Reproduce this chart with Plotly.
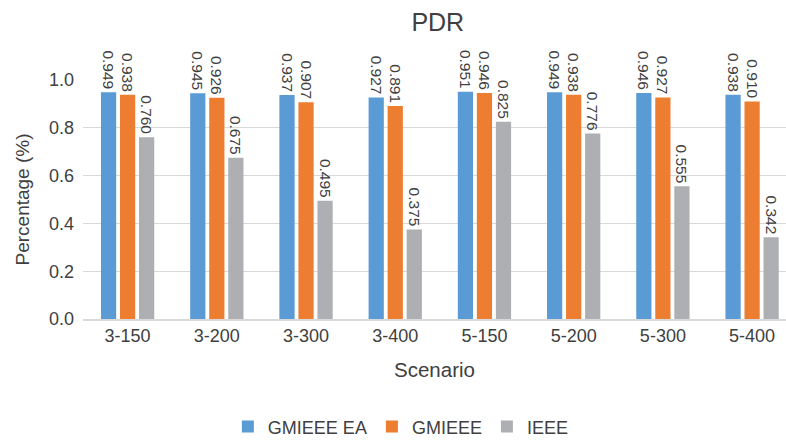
import plotly.graph_objects as go

scenarios = ["3-150", "3-200", "3-300", "3-400", "5-150", "5-200", "5-300", "5-400"]
gmieee_ea = [0.949, 0.945, 0.937, 0.927, 0.951, 0.949, 0.946, 0.938]
gmieee = [0.938, 0.926, 0.907, 0.891, 0.946, 0.938, 0.927, 0.910]
ieee = [0.760, 0.675, 0.495, 0.375, 0.825, 0.776, 0.555, 0.342]

series = [
    ("GMIEEE EA", gmieee_ea, "#5B9BD5"),
    ("GMIEEE", gmieee, "#ED7D31"),
    ("IEEE", ieee, "#AEAFB3"),
]

FONT = "Liberation Sans, Arial, sans-serif"
TXT = "#404040"

fig = go.Figure()
for name, vals, color in series:
    fig.add_trace(go.Bar(
        name=name,
        x=scenarios,
        y=vals,
        marker=dict(color=color, line=dict(width=0)),
        text=[f"{v:.3f}" for v in vals],
        textposition="outside",
        textangle=90,
        textfont=dict(family=FONT, size=15.5, color=TXT),
        constraintext="none",
        cliponaxis=False,
    ))

fig.update_layout(
    width=786,
    height=440,
    margin=dict(l=83, r=0, t=80, b=121, autoexpand=False),
    paper_bgcolor="white",
    plot_bgcolor="white",
    barmode="group",
    bargap=0.36,
    bargroupgap=0.2,
    font=dict(family=FONT, color=TXT),
    title=dict(text="PDR", x=0.557, xanchor="center", y=0.95, yanchor="middle",
               font=dict(family=FONT, size=25, color=TXT)),
    xaxis=dict(
        range=[-0.5, 7.38],
        showgrid=False,
        showline=True,
        linecolor="#D9D9D9",
        linewidth=1.5,
        ticks="",
        tickfont=dict(family=FONT, size=18, color=TXT),
        title=dict(text="Scenario", font=dict(family=FONT, size=20.5, color=TXT), standoff=17),
    ),
    yaxis=dict(
        range=[0, 1.0],
        dtick=0.2,
        tickformat=".1f",
        showgrid=True,
        gridcolor="#D9D9D9",
        gridwidth=1,
        zeroline=False,
        showline=False,
        ticks="",
        ticklabelstandoff=8,
        tickfont=dict(family=FONT, size=18, color=TXT),
        title=dict(text="Percentage (%)", font=dict(family=FONT, size=19, color=TXT), standoff=14),
    ),
    legend=dict(
        orientation="h",
        x=0.51,
        xanchor="center",
        xref="container",
        y=0.03,
        yanchor="middle",
        yref="container",
        font=dict(family=FONT, size=18, color=TXT),
        itemwidth=30,
        traceorder="normal",
    ),
)

fig.write_html("out.html")
